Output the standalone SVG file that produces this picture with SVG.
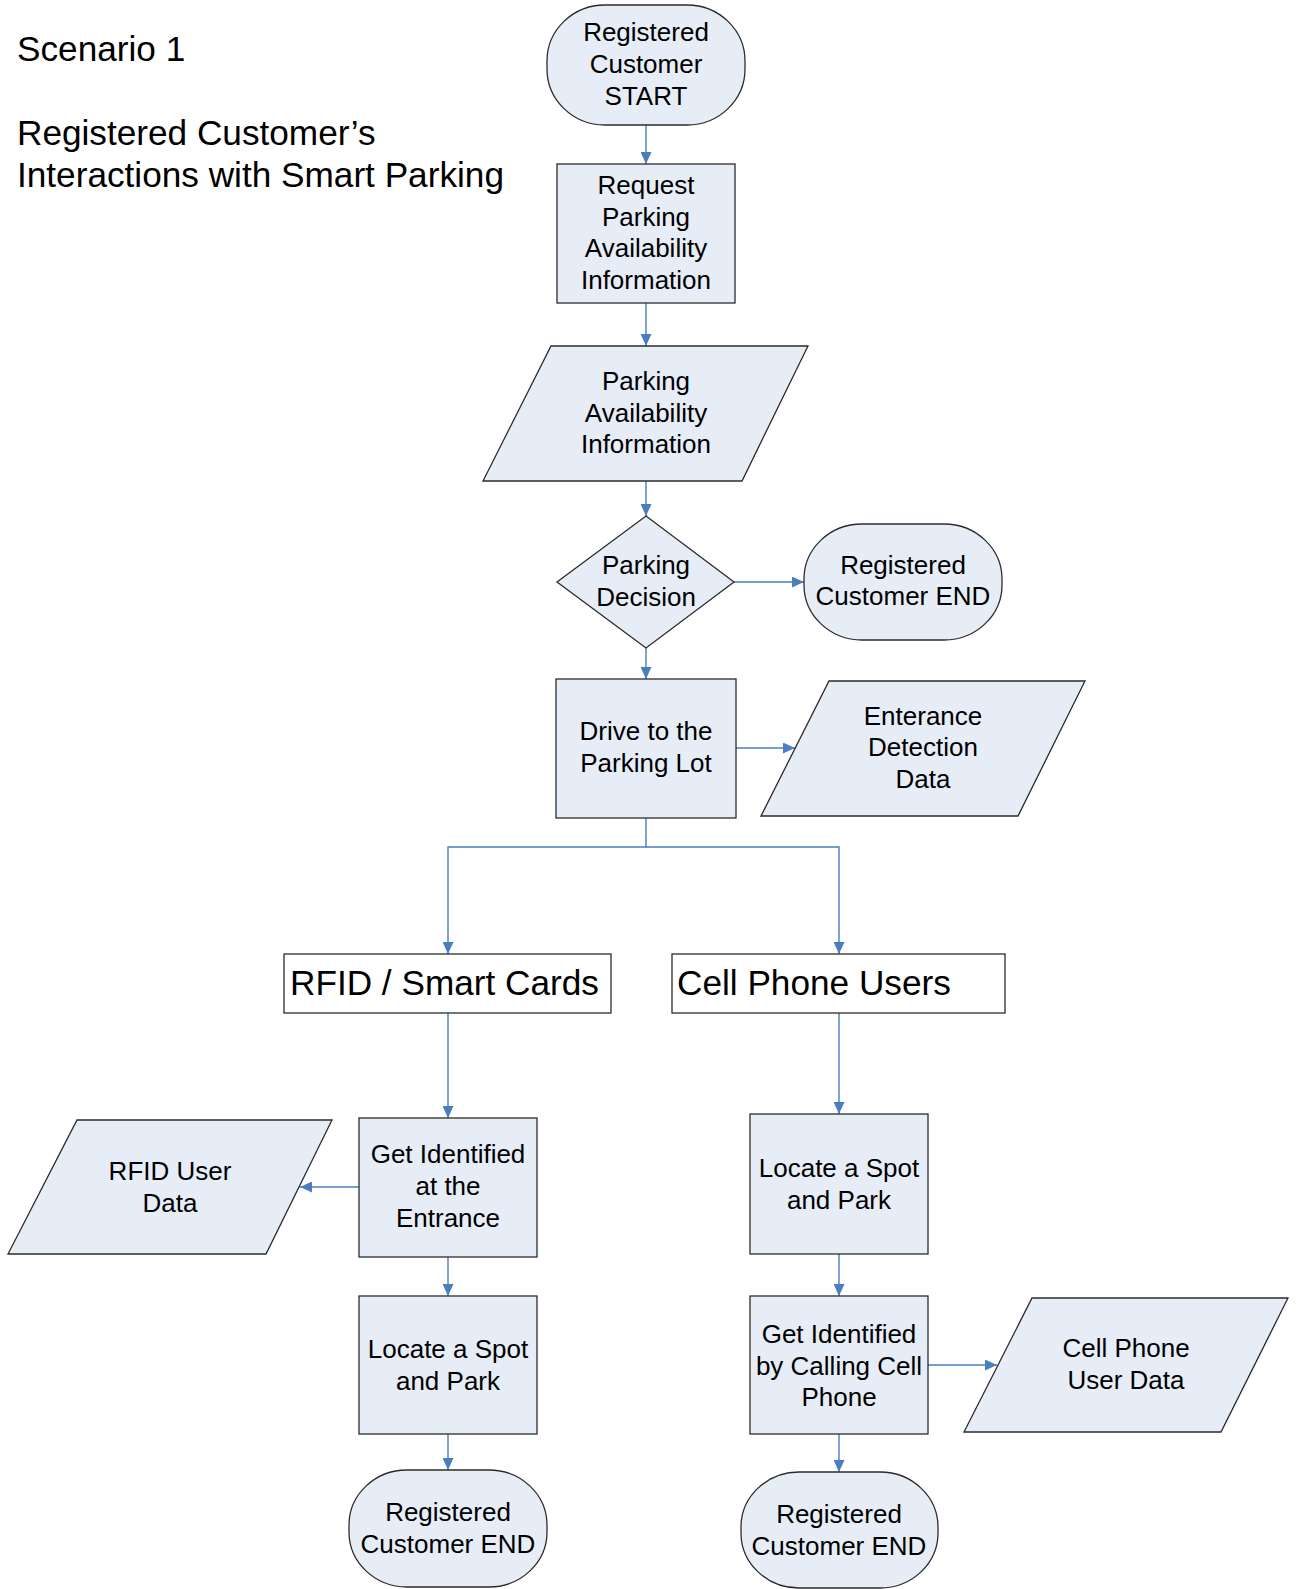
<svg xmlns="http://www.w3.org/2000/svg" width="1298" height="1589" viewBox="0 0 1298 1589">
<defs>
<style>
.shape{fill:#e7edf7;stroke:#2b2b2b;stroke-width:1.3}
.plain{fill:#ffffff;stroke:#2b2b2b;stroke-width:1.3}
.t{font-family:"Liberation Sans",Arial,sans-serif;font-size:26px;fill:#000;text-anchor:middle}
.big{font-family:"Liberation Sans",Arial,sans-serif;font-size:35.2px;fill:#000}
.title{font-family:"Liberation Sans",Arial,sans-serif;font-size:35.2px;fill:#000}
.c{fill:none;stroke:#4a7ebf;stroke-width:1.4}
</style>
<marker id="ah" markerUnits="userSpaceOnUse" markerWidth="12" markerHeight="11" refX="12" refY="5.5" orient="auto">
<path d="M0,0 L12,5.5 L0,11 z" fill="#4a7ebf"/>
</marker>
</defs>
<rect width="1298" height="1589" fill="#ffffff"/>

<g id="title">
<text class="title" x="17" y="61">Scenario 1</text>
<text class="title" x="17" y="145">Registered Customer’s</text>
<text class="title" x="17" y="187">Interactions with Smart Parking</text>
</g>

<g id="connectors">
<line class="c" x1="646" y1="125" x2="646" y2="164" marker-end="url(#ah)"/>
<line class="c" x1="646" y1="303" x2="646" y2="346" marker-end="url(#ah)"/>
<line class="c" x1="646" y1="481" x2="646" y2="516" marker-end="url(#ah)"/>
<line class="c" x1="734" y1="582" x2="804" y2="582" marker-end="url(#ah)"/>
<line class="c" x1="646" y1="648" x2="646" y2="679" marker-end="url(#ah)"/>
<line class="c" x1="736" y1="748" x2="795" y2="748" marker-end="url(#ah)"/>
<polyline class="c" points="646,818 646,847 448,847 448,954" marker-end="url(#ah)"/>
<polyline class="c" points="646,847 839,847 839,954" marker-end="url(#ah)"/>
<line class="c" x1="448" y1="1013" x2="448" y2="1118" marker-end="url(#ah)"/>
<line class="c" x1="359" y1="1187" x2="300" y2="1187" marker-end="url(#ah)"/>
<line class="c" x1="448" y1="1257" x2="448" y2="1296" marker-end="url(#ah)"/>
<line class="c" x1="448" y1="1434" x2="448" y2="1470" marker-end="url(#ah)"/>
<line class="c" x1="839" y1="1013" x2="839" y2="1114" marker-end="url(#ah)"/>
<line class="c" x1="839" y1="1254" x2="839" y2="1296" marker-end="url(#ah)"/>
<line class="c" x1="928" y1="1365" x2="997" y2="1365" marker-end="url(#ah)"/>
<line class="c" x1="839" y1="1434" x2="839" y2="1472" marker-end="url(#ah)"/>
</g>

<g id="start">
<rect class="shape" x="547" y="5" width="198" height="120" rx="58" ry="56"/>
<text class="t" x="646" y="41">Registered</text>
<text class="t" x="646" y="73">Customer</text>
<text class="t" x="646" y="105">START</text>
</g>

<g id="request">
<rect class="shape" x="557" y="164" width="178" height="139"/>
<text class="t" x="646" y="194">Request</text>
<text class="t" x="646" y="225.5">Parking</text>
<text class="t" x="646" y="257">Availability</text>
<text class="t" x="646" y="288.5">Information</text>
</g>

<g id="availability">
<polygon class="shape" points="551,346 808,346 742,481 483,481"/>
<text class="t" x="646" y="390">Parking</text>
<text class="t" x="646" y="421.5">Availability</text>
<text class="t" x="646" y="453">Information</text>
</g>

<g id="decision">
<polygon class="shape" points="646,516 734,582 646,648 557,582"/>
<text class="t" x="646" y="574">Parking</text>
<text class="t" x="646" y="606">Decision</text>
</g>

<g id="end1">
<rect class="shape" x="804" y="524" width="198" height="116" rx="58" ry="55"/>
<text class="t" x="903" y="574">Registered</text>
<text class="t" x="903" y="605">Customer END</text>
</g>

<g id="drive">
<rect class="shape" x="556" y="679" width="180" height="139"/>
<text class="t" x="646" y="740">Drive to the</text>
<text class="t" x="646" y="772">Parking Lot</text>
</g>

<g id="entrance">
<polygon class="shape" points="829,681 1085,681 1018,816 761,816"/>
<text class="t" x="923" y="724.5">Enterance</text>
<text class="t" x="923" y="756">Detection</text>
<text class="t" x="923" y="787.5">Data</text>
</g>

<g id="rfid">
<rect class="plain" x="284" y="954" width="327" height="59"/>
<text class="big" x="290" y="995">RFID / Smart Cards</text>
</g>

<g id="cell">
<rect class="plain" x="672" y="954" width="333" height="59"/>
<text class="big" x="677" y="995">Cell Phone Users</text>
</g>

<g id="getid1">
<rect class="shape" x="359" y="1118" width="178" height="139"/>
<text class="t" x="448" y="1163">Get Identified</text>
<text class="t" x="448" y="1195">at the</text>
<text class="t" x="448" y="1227">Entrance</text>
</g>

<g id="rfiddata">
<polygon class="shape" points="77,1120 332,1120 266,1254 8,1254"/>
<text class="t" x="170" y="1179.5">RFID User</text>
<text class="t" x="170" y="1212">Data</text>
</g>

<g id="locate1">
<rect class="shape" x="359" y="1296" width="178" height="138"/>
<text class="t" x="448" y="1358">Locate a Spot</text>
<text class="t" x="448" y="1390">and Park</text>
</g>

<g id="end2">
<rect class="shape" x="349" y="1470" width="198" height="117" rx="58" ry="55"/>
<text class="t" x="448" y="1521">Registered</text>
<text class="t" x="448" y="1553">Customer END</text>
</g>

<g id="locate2">
<rect class="shape" x="750" y="1114" width="178" height="140"/>
<text class="t" x="839" y="1176.5">Locate a Spot</text>
<text class="t" x="839" y="1208.5">and Park</text>
</g>

<g id="getid2">
<rect class="shape" x="750" y="1296" width="178" height="138"/>
<text class="t" x="839" y="1343">Get Identified</text>
<text class="t" x="839" y="1374.5">by Calling Cell</text>
<text class="t" x="839" y="1406">Phone</text>
</g>

<g id="celldata">
<polygon class="shape" points="1032,1298 1288,1298 1221,1432 964,1432"/>
<text class="t" x="1126" y="1357">Cell Phone</text>
<text class="t" x="1126" y="1389">User Data</text>
</g>

<g id="end3">
<rect class="shape" x="741" y="1472" width="197" height="116" rx="58" ry="55"/>
<text class="t" x="839" y="1523">Registered</text>
<text class="t" x="839" y="1555">Customer END</text>
</g>
</svg>
